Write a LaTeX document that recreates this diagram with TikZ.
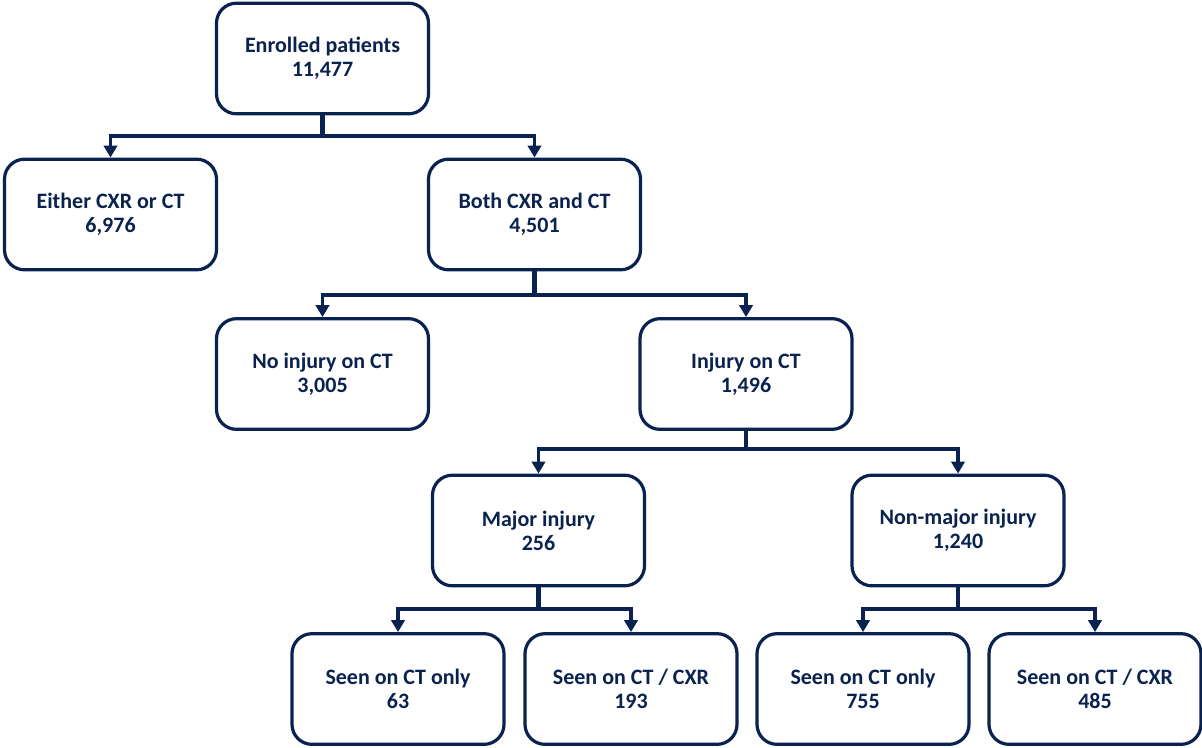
\documentclass[tikz,border=0pt]{standalone}
\usepackage{fontspec}
\setmainfont{Carlito}
\usetikzlibrary{arrows.meta}
\definecolor{navy}{RGB}{10,34,80}
\begin{document}
\begin{tikzpicture}[x=0.75pt,y=-0.75pt,
  box/.style={draw=navy,line width=2.4pt,rounded corners=15pt,fill=white,
    minimum width=159pt,minimum height=83pt,align=center,
    text=navy,font=\bfseries\fontsize{16.5}{18}\selectfont,inner sep=0pt},
  trunk/.style={draw=navy,line width=3.4pt},
  branch/.style={draw=navy,line width=2.8pt,-{Triangle[length=9pt,width=10pt]}}]
\useasboundingbox (0,0) rectangle (1202,747);
\node[box] (b1) at (322.5,58.5) {Enrolled patients\\11,477};
\node[box] (b2) at (110.5,214.5) {Either CXR or CT\\6,976};
\node[box] (b3) at (534.5,214.5) {Both CXR and CT\\4,501};
\node[box] (b4) at (322.5,374) {No injury on CT\\3,005};
\node[box] (b5) at (746,374) {Injury on CT\\1,496};
\node[box] (b6) at (538.5,530.5) {Major injury\\256};
\node[box] (b7) at (958,530.5) {Non-major injury\\1,240};
\node[box] (b8) at (398,689) {Seen on CT only\\63};
\node[box] (b9) at (631,689) {Seen on CT / CXR\\193};
\node[box] (b10) at (863,689) {Seen on CT only\\755};
\node[box] (b11) at (1095,689) {Seen on CT / CXR\\485};
\coordinate (j1) at (322.5,136);
\coordinate (j2) at (534.5,295);
\coordinate (j3) at (746,449);
\coordinate (j4) at (538.5,609);
\coordinate (j5) at (958,609);
\draw[trunk] (b1.south) -- (j1);
\draw[branch] (j1) -| (b2.north);
\draw[branch] (j1) -| (b3.north);
\draw[trunk] (b3.south) -- (j2);
\draw[branch] (j2) -| (b4.north);
\draw[branch] (j2) -| (b5.north);
\draw[trunk] (b5.south) -- (j3);
\draw[branch] (j3) -| (b6.north);
\draw[branch] (j3) -| (b7.north);
\draw[trunk] (b6.south) -- (j4);
\draw[branch] (j4) -| (b8.north);
\draw[branch] (j4) -| (b9.north);
\draw[trunk] (b7.south) -- (j5);
\draw[branch] (j5) -| (b10.north);
\draw[branch] (j5) -| (b11.north);
\end{tikzpicture}
\end{document}
